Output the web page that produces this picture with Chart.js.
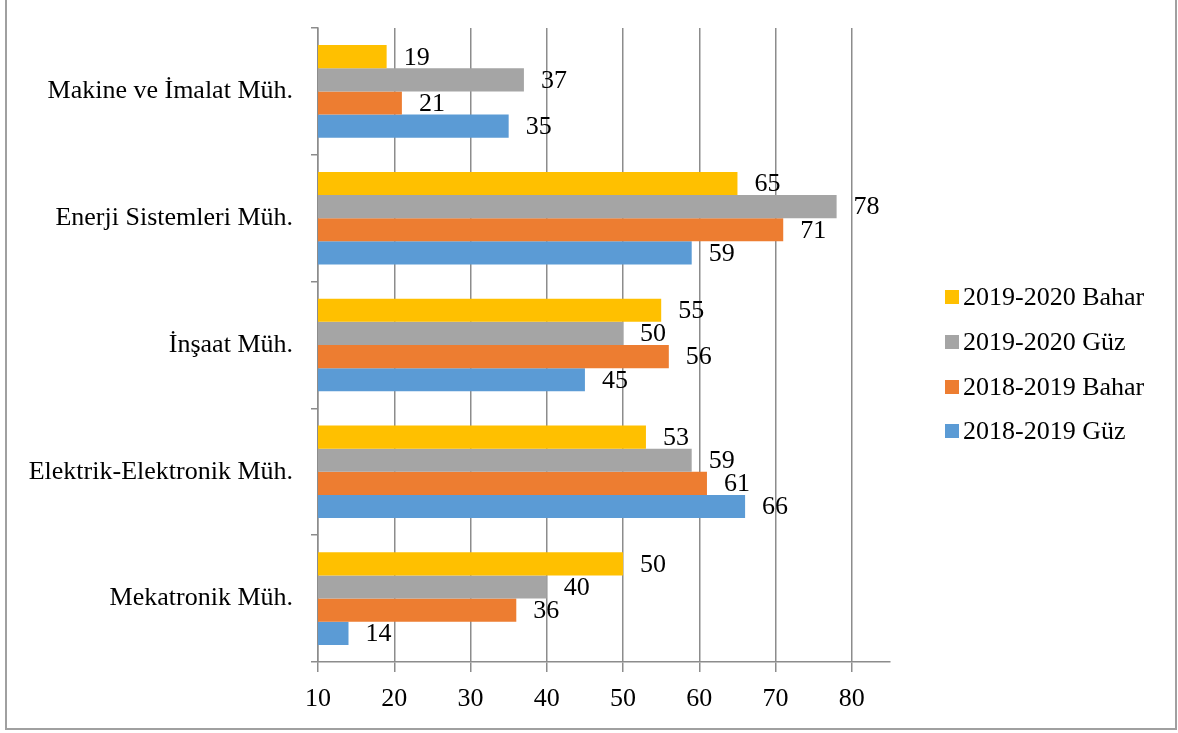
<!DOCTYPE html>
<html>
<head>
<meta charset="utf-8">
<script src="https://cdn.jsdelivr.net/npm/chart.js@4.4.1/dist/chart.umd.min.js"></script>
<style>
    html, body { margin: 0; padding: 0; background: #fff; }
    #wrap { position: relative; width: 1178px; height: 733px; overflow: hidden; }
    #frame {
        position: absolute; left: 5px; top: -5px; width: 1172px; height: 735px;
        border: 2px solid #a0a0a0; box-sizing: border-box; pointer-events: none;
    }
    #legend {
        position: absolute; left: 945px; top: 275px;
        font-family: "Liberation Serif", "Times New Roman", serif; font-size: 26px; color: #000;
    }
    .item { display: flex; align-items: center; height: 44.7px; }
    .box { width: 14px; height: 14px; margin-right: 4px; }
</style>
</head>
<body>
<div id="wrap">
    <canvas id="chart" width="1178" height="733"></canvas>
    <div id="frame"></div>
    <div id="legend"></div>
</div>
<script>
const categories = ['Makine ve İmalat Müh.', 'Enerji Sistemleri Müh.', 'İnşaat Müh.', 'Elektrik-Elektronik Müh.', 'Mekatronik Müh.'];
const seriesNames = ['2019-2020 Bahar', '2019-2020 Güz', '2018-2019 Bahar', '2018-2019 Güz'];
const bahar1920 = [19, 65, 55, 53, 50];
const guz1920 = [37, 78, 50, 59, 40];
const bahar1819 = [21, 71, 56, 61, 36];
const guz1819 = [35, 59, 45, 66, 14];
const xTicks = [10, 20, 30, 40, 50, 60, 70, 80];

const colors = ['#ffc000', '#a5a5a5', '#ed7d31', '#5b9bd5'];
const values = [bahar1920, guz1920, bahar1819, guz1819];
const serif = '"Liberation Serif", "Times New Roman", serif';
const gridColor = '#8c8c8c';

const valueLabels = {
    id: 'valueLabels',
    afterDatasetsDraw(chart) {
        const ctx = chart.ctx;
        ctx.save();
        ctx.font = '26px ' + serif;
        ctx.fillStyle = '#000';
        ctx.textBaseline = 'middle';
        ctx.textAlign = 'left';
        chart.data.datasets.forEach((ds, i) => {
            chart.getDatasetMeta(i).data.forEach((bar, j) => {
                ctx.fillText(String(ds.data[j]), bar.x + 17, bar.y + 1);
            });
        });
        ctx.restore();
    }
};

new Chart(document.getElementById('chart'), {
    type: 'bar',
    data: {
        labels: categories,
        datasets: seriesNames.map((name, i) => ({
            label: name,
            data: values[i],
            backgroundColor: colors[i],
            borderWidth: 0,
            categoryPercentage: 0.73,
            barPercentage: 1,
        })),
    },
    options: {
        indexAxis: 'y',
        responsive: false,
        animation: false,
        layout: { padding: { top: 28, right: 288, left: 0, bottom: 0 } },
        plugins: { legend: { display: false }, tooltip: { enabled: false } },
        scales: {
            x: {
                min: 10,
                max: 85,
                afterBuildTicks: (scale) => {
                    scale.ticks = xTicks.map(v => ({ value: v }));
                },
                afterFit: (scale) => {
                    scale.height = 71;
                    scale.paddingLeft = 0;
                    scale.paddingRight = 0;
                },
                grid: { color: gridColor, lineWidth: 1.5, tickLength: 10 },
                border: { color: gridColor, width: 1.5 },
                ticks: { color: '#000', font: { family: serif, size: 26 }, padding: 12 },
            },
            y: {
                afterFit: (scale) => {
                    scale.width = 318;
                    scale.paddingTop = 0;
                    scale.paddingBottom = 0;
                },
                grid: { drawOnChartArea: false, color: gridColor, lineWidth: 1.5, tickLength: 7, offset: true },
                border: { color: gridColor, width: 1.5 },
                ticks: { color: '#000', font: { family: serif, size: 26 }, padding: 18 },
            },
        },
    },
    plugins: [valueLabels],
});

const legendEl = document.getElementById('legend');
seriesNames.forEach((name, i) => {
    const item = document.createElement('div');
    item.className = 'item';
    item.innerHTML = '<span class="box" style="background:' + colors[i] + '"></span>' + name;
    legendEl.appendChild(item);
});
</script>
</body>
</html>
